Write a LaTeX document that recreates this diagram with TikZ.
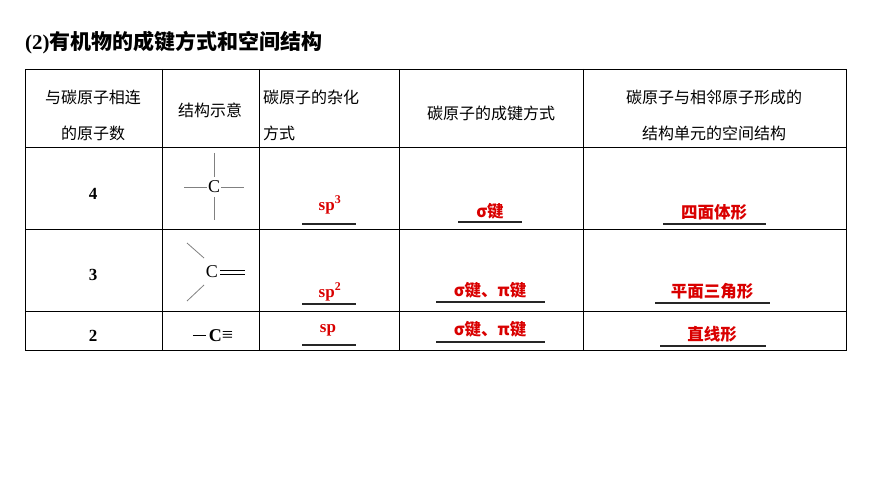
\documentclass[tikz,border=0pt]{standalone}
\usepackage{fontspec}
\setmainfont{Liberation Serif}
\newfontfamily\cjk{Noto Sans CJK SC}
\begin{document}
\begin{tikzpicture}[x=1pt,y=-1pt,
  hd/.style={font=\cjk\fontsize{16}{18}\selectfont,inner sep=0},
  ans/.style={text=red!85!black,font=\fontsize{17}{18}\selectfont,inner sep=0},
  ansc/.style={text=red!85!black,font=\cjk\bfseries\fontsize{16.5}{18}\selectfont,inner sep=0},
  ul/.style={line width=1.3pt,black!85},
  gl/.style={gray,line width=0.8pt}]
\useasboundingbox (0,0) rectangle (870,489);
\node[inner sep=0,anchor=west,font=\fontsize{21}{24}\selectfont] (title) at (25,43) {\textbf{(2)}\cjk\bfseries 有机物的成键方式和空间结构};
% grid
\draw[line width=0.8pt] (25,69) rectangle (846,350);
\foreach \y in {147,229,311} \draw[line width=0.8pt] (25,\y) -- (846,\y);
\foreach \x in {162,259,399,583} \draw[line width=0.8pt] (\x,69) -- (\x,350);
% header
\node[hd] (h1a) at (93,97) {与碳原子相连};
\node[hd] (h1b) at (93,133) {的原子数};
\node[hd] (h2) at (210,110) {结构示意};
\node[hd,anchor=west] (h3a) at (263,97) {碳原子的杂化};
\node[hd,anchor=west] (h3b) at (263,133) {方式};
\node[hd] (h4) at (491,113) {碳原子的成键方式};
\node[hd] (h5a) at (714,97) {碳原子与相邻原子形成的};
\node[hd] (h5b) at (714,133) {结构单元的空间结构};
% numbers
\node[font=\fontsize{17}{18}\selectfont] (n4) at (93,194) {\textbf{4}};
\node[font=\fontsize{17}{18}\selectfont] (n3) at (93,275) {\textbf{3}};
\node[font=\fontsize{17}{18}\selectfont] (n2) at (93,336) {\textbf{2}};
% structures
\node[font=\fontsize{18}{18}\selectfont,inner sep=0] (c1) at (214,187) {C};
\draw[gl] (184,187) -- (207,187) (221,187) -- (244,187) (214,153) -- (214,177) (214,197) -- (214,220);
\node[font=\fontsize{18}{18}\selectfont,inner sep=0] (c2) at (212,272) {C};
\draw[gl] (187,243) -- (204,258) (187,301) -- (204,285);
\draw[line width=0.8pt] (220,270) -- (245,270) (220,274) -- (245,274);
\node[font=\fontsize{18}{18}\selectfont,inner sep=0] (c3) at (213,336) {\rule[0.3em]{13pt}{1.6pt}\,\textbf{C}{\fontsize{20}{20}\selectfont≡}};
% answers
\node[ans] (a1) at (330,205) {\textbf{sp}\textsuperscript{\textbf{3}}};
\draw[ul] (302,224) -- (356,224);
\node[ansc] (b1) at (490,211) {σ键};
\draw[ul] (458,222) -- (522,222);
\node[ansc] (d1) at (714,212) {四面体形};
\draw[ul] (663,224) -- (766,224);
\node[ans] (a2) at (330,292) {\textbf{sp}\textsuperscript{\textbf{2}}};
\draw[ul] (302,304) -- (356,304);
\node[ansc] (b2) at (490,290) {σ键、π键};
\draw[ul] (436,302) -- (545,302);
\node[ansc] (d2) at (712,291) {平面三角形};
\draw[ul] (655,303) -- (770,303);
\node[ans] (a3) at (328,330) {\textbf{sp}};
\draw[ul] (302,345) -- (356,345);
\node[ansc] (b3) at (490,329) {σ键、π键};
\draw[ul] (436,342) -- (545,342);
\node[ansc] (d3) at (712,334) {直线形};
\draw[ul] (660,346) -- (766,346);
\end{tikzpicture}
\end{document}
